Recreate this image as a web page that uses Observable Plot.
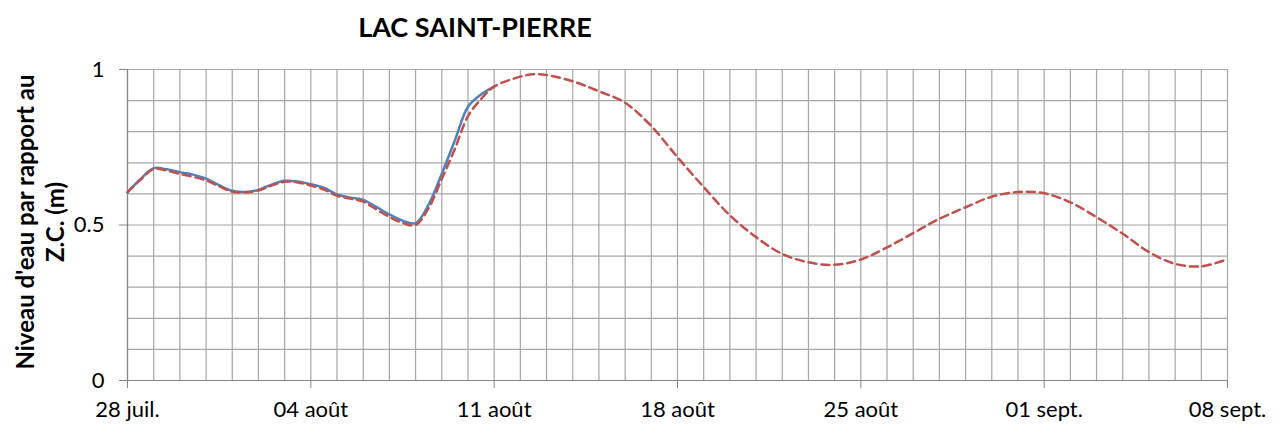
<!DOCTYPE html>
<html><head><meta charset="utf-8">
<script src="https://cdn.jsdelivr.net/npm/d3@7"></script>
<script src="https://cdn.jsdelivr.net/npm/@observablehq/plot@0.6"></script>
<style>
body{margin:0;background:#fff;font-family:Lato,"Open Sans",sans-serif;}
#title{width:950px;height:50px;line-height:54px;text-align:center;font-weight:bold;font-size:27px;color:#000;}
#chart svg [aria-label^="x-axis"] line,#chart svg [aria-label^="y-axis"] line,
#chart svg [aria-label^="x-axis"] path,#chart svg [aria-label^="y-axis"] path{stroke:#868686;}
#chart svg [aria-label^="x-axis"] text,#chart svg [aria-label^="y-axis"] text{font-size:22px !important;fill:#000;}
</style></head><body>
<div id="title">LAC SAINT-PIERRE</div>
<div id="chart"></div>
<script>
// Day offsets from 28 juillet
const obsDay = [0,0.5,1,1.5,2,2.5,3,3.5,4,4.5,5,5.5,6,6.5,7,7.5,8,8.5,9,9.5,10,10.5,11,11.5,12,12.5,13,13.5,14];
const obsLevel = [0.605,0.648,0.683,0.679,0.670,0.662,0.649,0.628,0.610,0.606,0.613,0.630,0.642,0.640,0.631,0.620,0.598,0.588,0.581,0.558,0.534,0.514,0.506,0.566,0.665,0.772,0.880,0.920,0.945];
const fcDay = [0,0.5,1,1.5,2,2.5,3,3.5,4,4.5,5,5.5,6,6.5,7,7.5,8,8.5,9,9.5,10,10.5,11,11.5,12,12.5,13,13.5,14,15,15.5,16,17,18,19,20,21,22,23,24,25,26,27,28,29,30,31,32,33,34,35,36,37,38,39,40,41,42];
const fcLevel = [0.605,0.646,0.680,0.675,0.664,0.655,0.643,0.624,0.607,0.605,0.611,0.627,0.639,0.637,0.627,0.614,0.594,0.585,0.575,0.550,0.526,0.507,0.500,0.555,0.648,0.745,0.850,0.905,0.945,0.977,0.985,0.982,0.962,0.930,0.893,0.818,0.718,0.622,0.531,0.461,0.407,0.380,0.372,0.389,0.428,0.474,0.520,0.557,0.591,0.606,0.602,0.573,0.525,0.472,0.413,0.375,0.367,0.390];
const xTickDays = [0,7,14,21,28,35,42];
const xTickLabels = ["28 juil.","04 août","11 août","18 août","25 août","01 sept.","08 sept."];
const yTickValues = [0,0.5,1];
const yTickLabels = ["0","0.5","1"];
const yTitle = "Niveau d'eau par rapport au\nZ.C. (m)";

const obs = obsDay.map((d,i)=>({day:d, level:obsLevel[i]}));
const fc = fcDay.map((d,i)=>({day:d, level:fcLevel[i]}));

const chart = Plot.plot({
  width:1280, height:377,
  marginTop:19, marginBottom:47, marginLeft:127, marginRight:53,
  style:{fontFamily:"Lato, 'Open Sans', sans-serif", fontSize:"22px", color:"#000", background:"#fff"},
  x:{domain:[0,42], ticks:xTickDays, tickFormat:d=>xTickLabels[xTickDays.indexOf(d)], tickSize:8, tickPadding:13, label:null},
  y:{domain:[0,1], ticks:yTickValues, tickFormat:d=>yTickLabels[yTickValues.indexOf(d)], tickSize:8, tickPadding:15, label:null},
  marks:[
    Plot.ruleX(d3.range(0,43), {stroke:"#a6a6a6", strokeWidth:1.2}),
    Plot.ruleY(d3.range(0,11).map(i=>i/10), {stroke:"#a6a6a6", strokeWidth:1.2}),
    Plot.ruleX([0], {stroke:"#868686", strokeWidth:1.2}),
    Plot.ruleY([0], {stroke:"#868686", strokeWidth:1.2}),
    Plot.line(obs, {x:"day", y:"level", stroke:"#4f81bd", strokeWidth:2.5, curve:"catmull-rom"}),
    Plot.line(fc, {x:"day", y:"level", stroke:"#c0504d", strokeWidth:2.5, strokeDasharray:"8,5", curve:"catmull-rom"}),
    Plot.text([yTitle], {frameAnchor:"left", rotate:-90, dx:-88, dy:-3, fontSize:24, fontWeight:"bold", lineHeight:1.25, textAnchor:"middle", lineAnchor:"middle", fill:"#000"})
  ]
});
document.getElementById("chart").appendChild(chart);
</script></body></html>
